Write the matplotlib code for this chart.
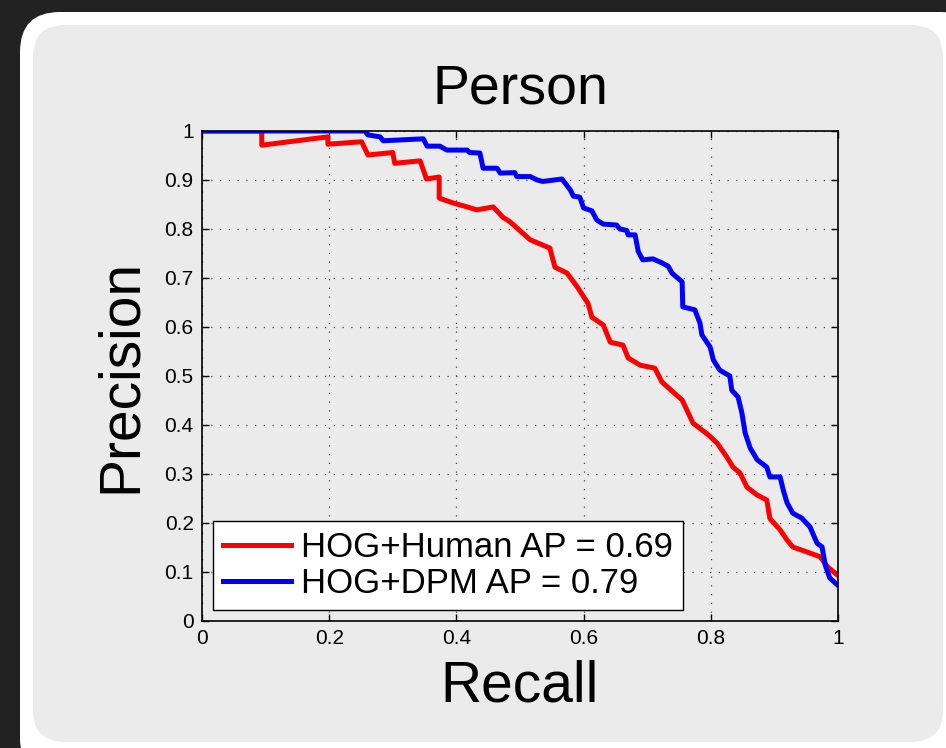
import matplotlib
matplotlib.use('Agg')
import matplotlib.pyplot as plt
from matplotlib.patches import FancyBboxPatch
from matplotlib.ticker import FormatStrFormatter

plt.rcParams['font.family'] = ['Liberation Sans', 'DejaVu Sans']

# PR curve values
human_recall = [0.0, 0.094, 0.094, 0.198, 0.198, 0.251, 0.261, 0.300, 0.303, 0.343, 0.353,
                0.373, 0.373, 0.395, 0.417, 0.432, 0.458, 0.473, 0.484, 0.516, 0.547, 0.555,
                0.574, 0.590, 0.607, 0.613, 0.631, 0.642, 0.662, 0.670, 0.689, 0.712, 0.723,
                0.741, 0.755, 0.772, 0.796, 0.810, 0.825, 0.835, 0.846, 0.857, 0.873, 0.888,
                0.893, 0.909, 0.920, 0.929, 0.951, 0.972, 0.984, 0.998]
human_precision = [1.0, 1.0, 0.971, 0.988, 0.973, 0.978, 0.951, 0.956, 0.934, 0.939, 0.902,
                   0.906, 0.863, 0.853, 0.845, 0.839, 0.845, 0.824, 0.815, 0.778, 0.761, 0.722,
                   0.710, 0.682, 0.648, 0.620, 0.604, 0.569, 0.563, 0.537, 0.522, 0.516, 0.488,
                   0.467, 0.451, 0.404, 0.380, 0.363, 0.335, 0.314, 0.302, 0.273, 0.257, 0.247,
                   0.209, 0.186, 0.165, 0.151, 0.141, 0.131, 0.110, 0.095]

dpm_recall = [0.0, 0.256, 0.261, 0.280, 0.285, 0.348, 0.354, 0.374, 0.385, 0.417, 0.421, 0.437,
              0.442, 0.464, 0.469, 0.492, 0.495, 0.516, 0.527, 0.536, 0.566, 0.579, 0.584,
              0.594, 0.600, 0.613, 0.621, 0.631, 0.652, 0.657, 0.668, 0.670, 0.681, 0.686,
              0.693, 0.709, 0.723, 0.733, 0.739, 0.755, 0.756, 0.775, 0.783, 0.786, 0.799,
              0.804, 0.814, 0.830, 0.833, 0.843, 0.849, 0.854, 0.862, 0.873, 0.888, 0.893,
              0.909, 0.914, 0.920, 0.929, 0.943, 0.956, 0.967, 0.975, 0.980, 0.987, 0.998]
dpm_precision = [1.0, 1.0, 0.992, 0.988, 0.980, 0.984, 0.969, 0.969, 0.961, 0.961, 0.956, 0.955,
                 0.924, 0.924, 0.914, 0.915, 0.907, 0.907, 0.900, 0.897, 0.902, 0.880, 0.867,
                 0.865, 0.843, 0.837, 0.818, 0.810, 0.808, 0.800, 0.797, 0.788, 0.788, 0.754,
                 0.737, 0.739, 0.731, 0.724, 0.710, 0.692, 0.641, 0.635, 0.608, 0.584, 0.559,
                 0.533, 0.512, 0.500, 0.471, 0.457, 0.424, 0.384, 0.353, 0.329, 0.314, 0.294,
                 0.294, 0.267, 0.241, 0.220, 0.210, 0.192, 0.159, 0.151, 0.114, 0.088, 0.075]

labels = ['HOG+Human AP = 0.69', 'HOG+DPM AP = 0.79']
ticks = [0, 0.2, 0.4, 0.6, 0.8, 1]
yticks = [0, 0.1, 0.2, 0.3, 0.4, 0.5, 0.6, 0.7, 0.8, 0.9, 1]

fig = plt.figure(figsize=(9.46, 7.48), dpi=100, facecolor='#222222')

# rounded card behind the chart (inches)
outer = FancyBboxPatch((0.20, -0.3), 9.6, 7.66, boxstyle='round,pad=0,rounding_size=0.4',
                       transform=fig.dpi_scale_trans, facecolor='white', edgecolor='none',
                       zorder=-3)
inner = FancyBboxPatch((0.33, 0.06), 9.10, 7.17, boxstyle='round,pad=0,rounding_size=0.32',
                       transform=fig.dpi_scale_trans, facecolor='#ebebeb', edgecolor='none',
                       zorder=-2)
fig.add_artist(outer)
fig.add_artist(inner)

ax = fig.add_axes([0.2135, 0.1698, 0.6723, 0.6551])
ax.set_facecolor('#ebebeb')

ax.plot(human_recall, human_precision, color='#ff0000', lw=3.6, label=labels[0])
ax.plot(dpm_recall, dpm_precision, color='#0000ff', lw=3.6, label=labels[1])

ax.set_xlim(0, 1)
ax.set_ylim(0, 1)
ax.set_xticks(ticks)
ax.set_yticks(yticks)
ax.xaxis.set_major_formatter(FormatStrFormatter('%g'))
ax.yaxis.set_major_formatter(FormatStrFormatter('%g'))
ax.tick_params(direction='in', top=True, right=True, length=5, width=1,
               labelsize=15, colors='black', pad=6)
for s in ax.spines.values():
    s.set_linewidth(1.2)
ax.grid(True, linestyle=(0, (1, 6)), color='#444444', linewidth=0.9)

ax.set_title('Person', fontsize=40, pad=20)
ax.set_xlabel('Recall', fontsize=41, labelpad=8)
ax.set_ylabel('Precision', fontsize=41, labelpad=12)

leg = ax.legend(loc='lower left', bbox_to_anchor=(0.017, 0.022), borderaxespad=0,
                fontsize=25, fancybox=False, framealpha=1, edgecolor='black',
                handlelength=1.96, handletextpad=0.3, borderpad=0.28, labelspacing=0.1)
leg.get_frame().set_linewidth(1.0)

fig.savefig('out.png', dpi=100, facecolor=fig.get_facecolor())
